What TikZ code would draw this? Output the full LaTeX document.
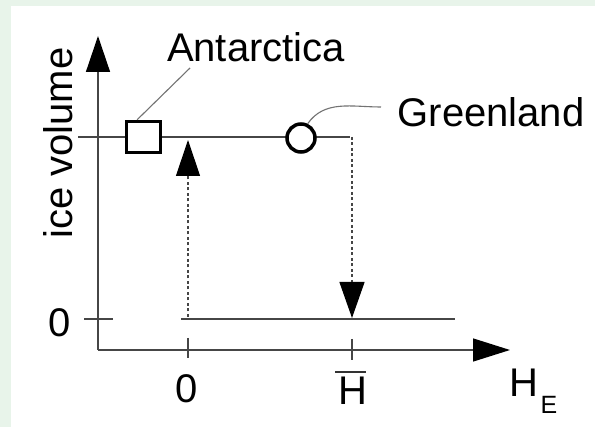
\documentclass[tikz,border=0pt]{standalone}
\usepackage{fontspec}
\setmainfont{Liberation Sans}
\usetikzlibrary{arrows.meta,calc}
\definecolor{bggreen}{RGB}{232,244,234}
\definecolor{linegray}{RGB}{70,70,70}
\tikzset{
  axisline/.style={draw=linegray,line width=1.4pt},
  leader/.style={draw=black!55,line width=1.1pt},
  dashline/.style={draw=linegray,line width=1.2pt,dash pattern=on 3pt off 2.5pt},
  bigtip/.style={-{Triangle[length=36pt,width=24pt,color=black]}},
  label/.style={font=\fontsize{40}{44}\selectfont,inner sep=0pt,anchor=base},
  marker/.style={draw=black,line width=3.5pt,fill=white,inner sep=0pt}
}
\begin{document}
\begin{tikzpicture}[x=1pt,y=1pt]
\useasboundingbox (0,0) rectangle (595,-427);
\fill[bggreen] (0,0) rectangle (595,-427);
\fill[white] (11,-6) rectangle (595,-427);
% axes
\coordinate (O) at (98,-350);
\coordinate (ytip) at (98,-36);
\coordinate (xtip) at (510,-350);
\draw[axisline,-{Triangle[length=36pt,width=24pt,color=black]}] (O) -- (ytip);
\draw[axisline,-{Triangle[length=37pt,width=23pt,color=black]}] (O) -- (xtip);
% ticks
\coordinate (ty1) at (84,-319); \coordinate (ty2) at (113,-319);
\draw[axisline] (ty1) -- (ty2);
\coordinate (tx1) at (188,-338); \coordinate (tx2) at (188,-358);
\draw[axisline] (tx1) -- (tx2);
\coordinate (th1) at (352,-339); \coordinate (th2) at (352,-360);
\draw[axisline] (th1) -- (th2);
% upper branch
\coordinate (up0) at (78,-137);
\coordinate (up1) at (350,-137);
\coordinate (dn0) at (352,-137);
\coordinate (dn1) at (352,-318);
\draw[axisline] (up0) -- (up1);
% lower branch
\coordinate (lo0) at (181,-319);
\coordinate (lo1) at (455,-319);
\draw[axisline] (lo0) -- (lo1);
% dashed transitions
\coordinate (ua0) at (188,-317);
\coordinate (ua1) at (188,-140);
\draw[dashline,bigtip] (ua0) -- (ua1);
\draw[dashline,-{Triangle[length=36pt,width=25pt,color=black]}] (dn0) -- (dn1);
% markers
\node[marker,rectangle,minimum width=34pt,minimum height=31pt] (sq) at (143.5,-137) {};
\node[marker,circle,minimum size=28pt] (ci) at (301,-138) {};
% labels
\node[label] (ant) at (256,-62) {Antarctica};
\node[label] (gre) at (491,-127) {Greenland};
\coordinate (aend) at (190,-68);
\draw[leader] ($(sq.north west)!0.33!(sq.north east)$) -- (aend);
\coordinate (gend) at (381,-107);
\draw[leader] (ci.65) to[out=55,in=180] (gend);
\node[label,rotate=90] (iv) at (72,-143) {ice volume};
\node[label] (y0) at (60,-337) {0};
\node[label] (x0) at (187,-403) {0};
\node[label] (hb) at (353,-405) {H};
\coordinate (ob0) at (335,-372); \coordinate (ob1) at (366,-372);
\draw[draw=black!80,line width=1.5pt] (ob0) -- (ob1);
\node[label] (he) at (524,-397) {H};
\node[font=\fontsize{25}{27}\selectfont,inner sep=0pt,anchor=base] (hes) at (549,-414) {E};
\end{tikzpicture}
\end{document}
